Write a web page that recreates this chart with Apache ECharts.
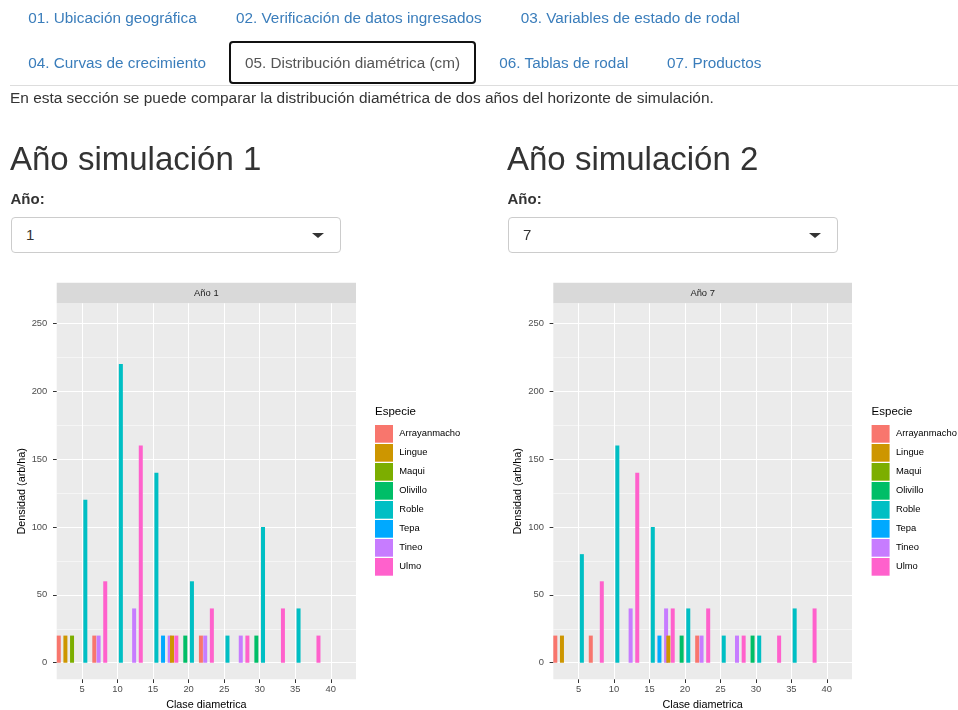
<!DOCTYPE html>
<html>
<head>
<meta charset="utf-8">
<script src="https://cdn.jsdelivr.net/npm/echarts@6/dist/echarts.min.js"></script>
<style>
html,body{margin:0;padding:0;width:958px;height:710px;overflow:hidden;background:#fff;
  font-family:"Liberation Sans",Arial,Helvetica,sans-serif;}
#chart{position:absolute;left:0;top:0;width:958px;height:710px;}
.t{position:absolute;white-space:nowrap;line-height:1.117;color:#333;}
.tab{color:#3a7dbb;font-size:15.3px;}
.active{color:#555;}
.box{position:absolute;box-sizing:border-box;border:2px solid #111;border-radius:4px;}
.rule{position:absolute;left:10px;top:85px;width:948px;height:1px;background:#ddd;}
.sel{position:absolute;box-sizing:border-box;border:1px solid #ccc;border-radius:4px;background:#fff;}
.caret{position:absolute;width:0;height:0;border-left:6px solid transparent;border-right:6px solid transparent;border-top:5px solid #333;}
</style>
</head>
<body>
<div id="chart"></div>

<div class="t tab" style="left:28.3px;top:9.4px;">01. Ubicación geográfica</div>
<div class="t tab" style="left:236px;top:9.4px;">02. Verificación de datos ingresados</div>
<div class="t tab" style="left:520.7px;top:9.4px;">03. Variables de estado de rodal</div>
<div class="t tab" style="left:28.3px;top:54.4px;">04. Curvas de crecimiento</div>
<div class="box" style="left:229px;top:41px;width:247px;height:42.5px;"></div>
<div class="t tab active" style="left:245px;top:54.4px;">05. Distribución diamétrica (cm)</div>
<div class="t tab" style="left:499.3px;top:54.4px;">06. Tablas de rodal</div>
<div class="t tab" style="left:667px;top:54.4px;">07. Productos</div>
<div class="rule"></div>
<div class="t" style="left:10px;top:88.7px;font-size:15.43px;">En esta sección se puede comparar la distribución diamétrica de dos años del horizonte de simulación.</div>

<div class="t" style="left:10px;top:140.8px;font-size:33px;">Año simulación 1</div>
<div class="t" style="left:507px;top:140.8px;font-size:33px;">Año simulación 2</div>
<div class="t" style="left:10.5px;top:191.4px;font-size:15px;font-weight:bold;">Año:</div>
<div class="t" style="left:507.5px;top:191.4px;font-size:15px;font-weight:bold;">Año:</div>
<div class="sel" style="left:10.5px;top:217.3px;width:330px;height:36px;"></div>
<div class="sel" style="left:507.5px;top:217.3px;width:330px;height:36px;"></div>
<div class="t" id="sel1" style="left:26px;top:227.4px;font-size:15px;"></div>
<div class="t" id="sel2" style="left:523px;top:227.4px;font-size:15px;"></div>
<div class="caret" style="left:311.5px;top:232.5px;"></div>
<div class="caret" style="left:808.5px;top:232.5px;"></div>

<script>
// ---------------- data ----------------
const species = ['Arrayanmacho','Lingue','Maqui','Olivillo','Roble','Tepa','Tineo','Ulmo'];
const classes = [5, 10, 15, 20, 25, 30, 35];          // clase diametrica
const years = [1, 7];                                  // años comparados
const xTicks = [5, 10, 15, 20, 25, 30, 35, 40];
const yTicks = [0, 50, 100, 150, 200, 250];
const yMinor = [25, 75, 125, 175, 225];

// Año 1: densidad (arb/ha) por clase diametrica
const y1Arrayanmacho = [20, 20, 0, 0, 20, 0, 0];
const y1Lingue       = [20, 0, 0, 20, 0, 0, 0];
const y1Maqui        = [20, 0, 0, 0, 0, 0, 0];
const y1Olivillo     = [0, 0, 0, 20, 0, 20, 0];
const y1Roble        = [120, 220, 140, 60, 20, 100, 40];
const y1Tepa         = [0, 0, 20, 0, 0, 0, 0];
const y1Tineo        = [20, 40, 20, 20, 20, 0, 0];
const y1Ulmo         = [60, 160, 20, 40, 20, 40, 20];

// Año 7
const y7Arrayanmacho = [20, 20, 0, 0, 20, 0, 0];
const y7Lingue       = [20, 0, 0, 20, 0, 0, 0];
const y7Maqui        = [0, 0, 0, 0, 0, 0, 0];
const y7Olivillo     = [0, 0, 0, 20, 0, 20, 0];
const y7Roble        = [80, 160, 100, 40, 20, 20, 40];
const y7Tepa         = [0, 0, 20, 0, 0, 0, 0];
const y7Tineo        = [0, 40, 40, 20, 20, 0, 0];
const y7Ulmo         = [60, 140, 40, 40, 20, 20, 40];

const valuesByYear = [
  [y1Arrayanmacho, y1Lingue, y1Maqui, y1Olivillo, y1Roble, y1Tepa, y1Tineo, y1Ulmo],
  [y7Arrayanmacho, y7Lingue, y7Maqui, y7Olivillo, y7Roble, y7Tepa, y7Tineo, y7Ulmo]
];

// ---------------- style ----------------
const colors = ['#F8766D','#CD9600','#7CAE00','#00BE67','#00BFC4','#00A9FF','#C77CFF','#FF61CC'];
const FONT = '"Liberation Sans", Arial, Helvetica, sans-serif';
const panels = [
  {left: 56.7, top: 303.3, width: 299.3, height: 376},
  {left: 553.3, top: 303.3, width: 298.7, height: 376}
];
const legendLeft = [375, 871.6];
const X_MIN = 1.44, X_MAX = 43.55, Y_MIN = -12.2, Y_MAX = 264.8;

document.getElementById('sel1').textContent = String(years[0]);
document.getElementById('sel2').textContent = String(years[1]);

const grids = [], xAxes = [], yAxes = [], series = [], legends = [], graphics = [];

panels.forEach((p, g) => {
  grids.push({left: p.left, top: p.top, width: p.width, height: p.height,
    show: true, backgroundColor: '#EBEBEB', borderWidth: 0, containLabel: false, outerBoundsMode: 'none'});

  xAxes.push({
    type: 'value', gridIndex: g, min: X_MIN, max: X_MAX, position: 'bottom',
    axisLine: {show: false, onZero: false},
    axisTick: {show: true, length: 3.7, lineStyle: {color: '#333333', width: 1}, customValues: xTicks},
    axisLabel: {customValues: xTicks, color: '#4D4D4D', fontSize: 9.4, margin: 6, fontFamily: FONT},
    splitLine: {show: true, lineStyle: {color: '#FFFFFF', width: 1}},
    name: 'Clase diametrica', nameLocation: 'middle', nameGap: 19.5,
    nameTextStyle: {fontSize: 10.8, color: '#000', fontFamily: FONT}
  });

  yAxes.push({
    type: 'value', gridIndex: g, min: Y_MIN, max: Y_MAX, position: 'left',
    axisLine: {show: false, onZero: false},
    axisTick: {show: true, length: 3.7, lineStyle: {color: '#333333', width: 1}, customValues: yTicks},
    axisLabel: {customValues: yTicks, color: '#4D4D4D', fontSize: 9.4, margin: 9.4, fontFamily: FONT},
    splitLine: {show: true, lineStyle: {color: '#FFFFFF', width: 1}},
    name: 'Densidad (arb/ha)', nameLocation: 'middle', nameRotate: 90, nameGap: 29.5,
    nameTextStyle: {fontSize: 10.8, color: '#000', fontFamily: FONT}
  });
  yAxes.push({
    type: 'value', gridIndex: g, min: Y_MIN, max: Y_MAX, position: 'left',
    axisLine: {show: false, onZero: false},
    axisTick: {show: false, customValues: yMinor},
    axisLabel: {show: false, customValues: yMinor},
    splitLine: {show: true, lineStyle: {color: '#FFFFFF', width: 0.5}}
  });

  species.forEach((sp, i) => {
    const vals = valuesByYear[g][i];
    const data = [];
    classes.forEach((c, j) => { if (vals[j]) data.push([c, vals[j]]); });
    series.push({
      type: 'bar', name: sp, xAxisIndex: g, yAxisIndex: g * 2,
      data: data, barWidth: 4, barGap: '66%',
      itemStyle: {color: colors[i]},
      z: sp === 'Lingue' ? 3 : 2,
      emphasis: {disabled: true}
    });
  });

  legends.push({
    left: legendLeft[g], top: 425, orient: 'vertical', padding: 0,
    itemWidth: 18, itemHeight: 17.7, itemGap: 1.3, icon: 'rect',
    selectedMode: false, data: species,
    textStyle: {fontSize: 9.4, color: '#000', fontFamily: FONT, padding: [0, 0, 0, 1.3]}
  });

  graphics.push({type: 'rect', shape: {x: p.left, y: 282.7, width: p.width, height: 20.6},
    style: {fill: '#D9D9D9'}, silent: true});
  graphics.push({type: 'text', x: p.left + p.width / 2, y: 293.5,
    style: {text: 'Año ' + years[g], fill: '#1A1A1A', fontSize: 9.4, fontFamily: FONT,
      align: 'center', verticalAlign: 'middle', textAlign: 'center', textVerticalAlign: 'middle'}, silent: true});
  graphics.push({type: 'text', x: legendLeft[g], y: 412,
    style: {text: 'Especie', fill: '#000', fontSize: 11.5, fontFamily: FONT,
      align: 'left', verticalAlign: 'middle', textAlign: 'left', textVerticalAlign: 'middle'}, silent: true});
});

const chart = echarts.init(document.getElementById('chart'), null, {renderer: 'canvas'});
chart.setOption({
  animation: false,
  textStyle: {fontFamily: FONT},
  grid: grids, xAxis: xAxes, yAxis: yAxes, series: series,
  legend: legends, graphic: graphics, tooltip: {show: false}
});
</script>
</body>
</html>
